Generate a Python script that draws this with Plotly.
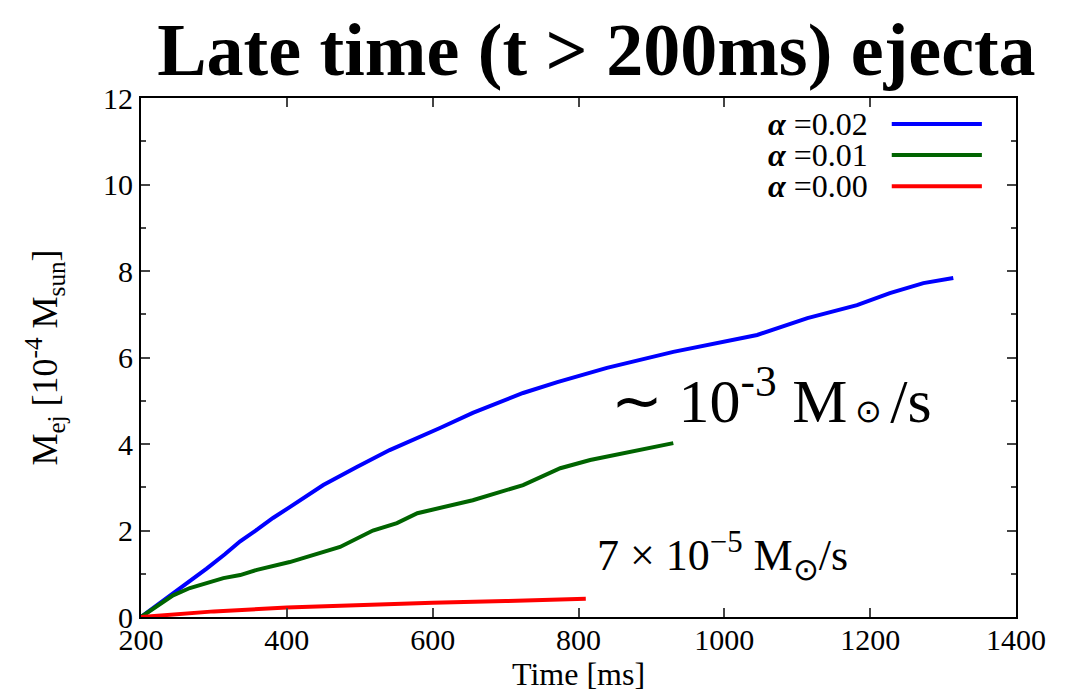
import plotly.graph_objects as go

# ---- data ----
t_a002 = [200, 244, 270, 290, 315, 336, 360, 381, 404, 450, 496, 541, 610, 655, 724, 771, 839, 930, 1045, 1114, 1182, 1227, 1273, 1314]
m_a002 = [0.0, 0.55, 0.85, 1.12, 1.45, 1.75, 2.03, 2.29, 2.54, 3.05, 3.47, 3.86, 4.37, 4.72, 5.18, 5.43, 5.76, 6.13, 6.52, 6.91, 7.21, 7.49, 7.72, 7.84]

t_a001 = [200, 244, 267, 313, 336, 359, 404, 450, 473, 518, 551, 579, 610, 655, 724, 775, 816, 871, 930]
m_a001 = [0.0, 0.50, 0.67, 0.90, 0.97, 1.09, 1.27, 1.50, 1.62, 2.00, 2.17, 2.40, 2.52, 2.70, 3.05, 3.44, 3.63, 3.82, 4.02]

t_a000 = [200, 250, 300, 400, 500, 600, 700, 800, 810]
m_a000 = [0.0, 0.07, 0.13, 0.22, 0.28, 0.33, 0.37, 0.41, 0.42]

series_names = ["α =0.02", "α =0.01", "α =0.00"]
series_colors = ["#0000ff", "#006400", "#ff0000"]

x_ticks = [200, 400, 600, 800, 1000, 1200, 1400]
y_ticks = [0, 2, 4, 6, 8, 10, 12]

FONT = "Liberation Serif"

fig = go.Figure()
for t, m, name, col in zip([t_a002, t_a001, t_a000], [m_a002, m_a001, m_a000], series_names, series_colors):
    fig.add_trace(go.Scatter(x=t, y=m, mode="lines", name=name,
                             line=dict(color=col, width=4), showlegend=False))

# legend drawn gnuplot-style: text left, key line right
leg_y = [0.950, 0.890, 0.830]
leg_lines = ["<span style='font-size:32px'><b><i>α</i></b> =" + n.split("=")[1] + "</span>" for n in series_names]
fig.add_annotation(xref="paper", yref="paper", x=0.833, y=leg_y[1], xanchor="right", yanchor="middle",
                   align="right", text="<br>".join(leg_lines), showarrow=False,
                   font=dict(family=FONT, size=24, color="black"))
for col, yy in zip(series_colors, leg_y):
    fig.add_shape(type="line", xref="paper", yref="paper", x0=0.858, x1=0.961, y0=yy, y1=yy,
                  line=dict(color=col, width=4))

fig.add_annotation(x=1065, y=5.12, text="∼ 10<sup>-3</sup> M<span style='font-size:32px'> ⊙ </span>/s",
                   showarrow=False, font=dict(family=FONT, size=62, color="black"))
fig.add_annotation(x=998, y=1.42, text="7 × 10<sup>−5</sup> M<sub>⊙</sub>/s",
                   showarrow=False, font=dict(family=FONT, size=44, color="black"))

fig.update_layout(
    width=1066, height=692,
    paper_bgcolor="white", plot_bgcolor="white",
    margin=dict(l=133, r=58, t=90, b=83, autoexpand=False),
    title=dict(text="<b>Late time (t > 200ms) ejecta</b>", x=0.552, xanchor="center", y=0.94, yanchor="middle",
               font=dict(family=FONT, size=74, color="black")),
    xaxis=dict(range=[200, 1400], tickvals=x_ticks, ticks="inside", ticklen=9, tickwidth=2,
               showline=True, linecolor="black", linewidth=2, mirror="ticks", showgrid=False, zeroline=False,
               automargin=False, ticklabelstandoff=-5,
               tickfont=dict(family=FONT, size=30, color="black"),
               title=dict(text="Time [ms]", font=dict(family=FONT, size=32, color="black"), standoff=0)),
    yaxis=dict(range=[0, 12], tickvals=y_ticks, ticks="inside", ticklen=9, tickwidth=2,
               minor=dict(dtick=1, ticks="inside", ticklen=5, tickwidth=2),
               showline=True, linecolor="black", linewidth=2, mirror="ticks", showgrid=False, zeroline=False,
               automargin=False,
               tickfont=dict(family=FONT, size=30, color="black"),
               title=dict(text="M<sub>ej</sub> [10<sup>-4</sup> M<sub>sun</sub>]",
                          font=dict(family=FONT, size=36, color="black"), standoff=34)),
)

fig.write_html("out.html")
